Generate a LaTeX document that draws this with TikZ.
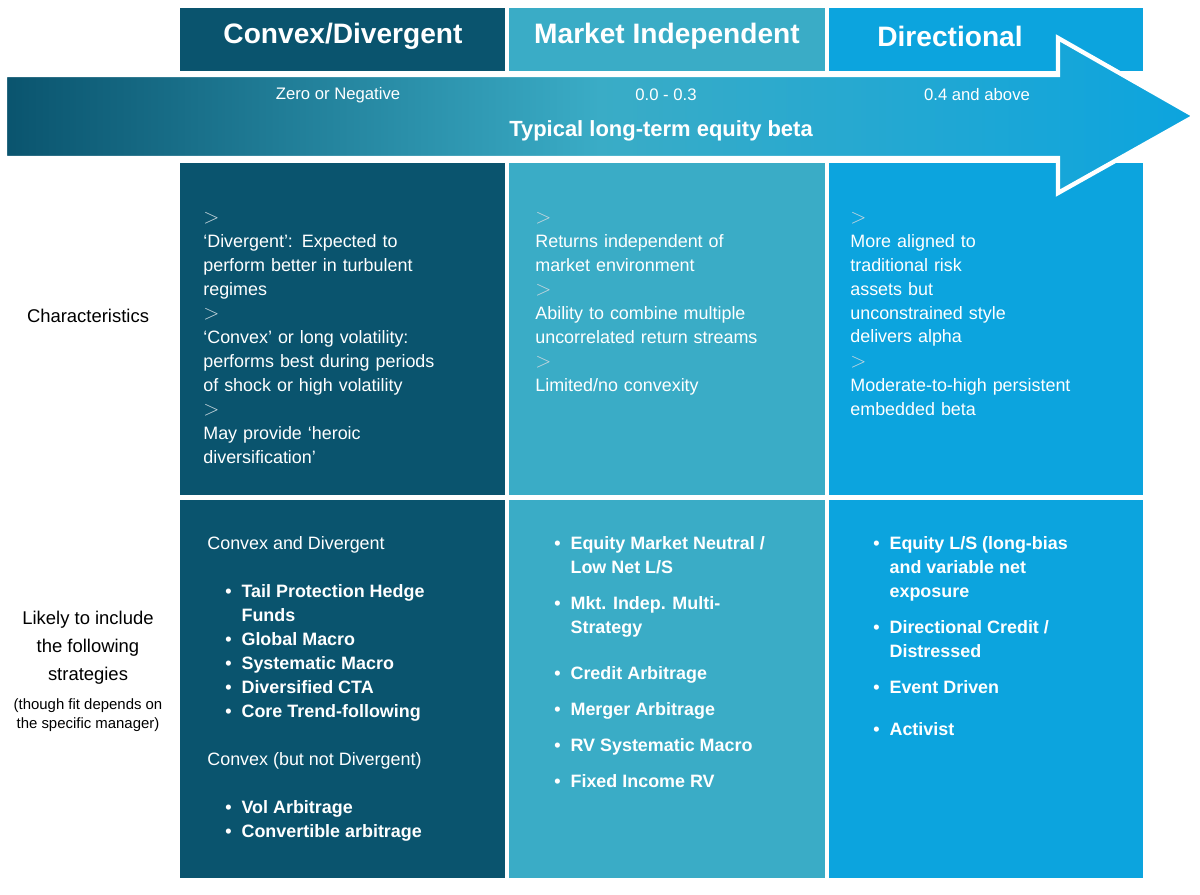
\documentclass[tikz,border=0pt]{standalone}
\usepackage{fontspec}
\setmainfont{Liberation Sans}
\usetikzlibrary{positioning}
\definecolor{cdark}{RGB}{10, 84, 110}
\definecolor{cmid}{RGB}{58, 172, 198}
\definecolor{cbright}{RGB}{12, 164, 222}
\definecolor{chev}{RGB}{200, 215, 222}
\tikzstyle{hd}=[anchor=center,text=white,font=\fontsize{16}{18}\selectfont\bfseries]
\tikzstyle{lbl}=[align=center,font=\fontsize{10.5}{16}\selectfont]
\tikzstyle{chr}=[anchor=north west,align=left,text=white,text width=150pt,
  font=\fontsize{10.2}{13.6}\selectfont,inner sep=0pt]
\tikzstyle{str}=[anchor=north west,align=left,text=white,
  font=\fontsize{10.2}{13.6}\selectfont\bfseries,inner sep=0pt]
\tikzstyle{sub}=[anchor=north west,text=white,font=\fontsize{10.2}{13.6}\selectfont,inner sep=0pt]
\tikzstyle{none}=[]
\newcommand{\chv}{\textcolor{chev}{\fontsize{13}{13}\selectfont$>$}\ }
\newcommand{\bl}{\textbullet\ \ }
\begin{document}
\begin{tikzpicture}[x=0.02cm,y=-0.02cm]
  \useasboundingbox (0,0) rectangle (1200,895);
  % columns
  \fill[cdark] (180,8) rectangle (505,71);
  \fill[cmid] (509,8) rectangle (825,71);
  \fill[cbright] (829,8) rectangle (1143,71);
  \fill[cdark] (180,163) rectangle (505,495);
  \fill[cmid] (509,163) rectangle (825,495);
  \fill[cbright] (829,163) rectangle (1143,495);
  \fill[cdark] (180,500) rectangle (505,878);
  \fill[cmid] (509,500) rectangle (825,878);
  \fill[cbright] (829,500) rectangle (1143,878);
  \node [style=hd] (h1) at (343,36) {Convex/Divergent};
  \node [style=hd] (h2) at (667,36) {Market Independent};
  \node [style=hd] (h3) at (950,36) {Directional};
  % arrow
  \shade[left color=cdark,right color=cbright,middle color=cmid,draw=white,line width=2.5pt]
    (5,75) -- (1058,75) -- (1058,38) -- (1195,116) -- (1058,193) -- (1058,158) -- (5,158) -- cycle;
  \node [text=white,font=\fontsize{9.5}{11}\selectfont] (b1) at (338,95) {Zero or Negative};
  \node [text=white,font=\fontsize{9.5}{11}\selectfont] (b2) at (666,95) {0.0 - 0.3};
  \node [text=white,font=\fontsize{9.5}{11}\selectfont] (b3) at (977,95) {0.4 and above};
  \node [text=white,font=\fontsize{12.5}{14}\selectfont\bfseries] (beta) at (661,131) {Typical long-term equity beta};
  % row labels
  \node [style=lbl] (rc) at (88,316) {Characteristics};
  \node [style=lbl] (rs) at (88,648) {Likely to include\\the following\\strategies};
  \node [align=center,font=\fontsize{8.5}{11}\selectfont] (rn) at (88,715) {(though fit depends on\\the specific manager)};
  % characteristics
  \foreach \x/\y/\t in {203/212/{‘Divergent’: Expected to\\perform better in turbulent\\regimes},
      203/308/{‘Convex’ or long volatility:\\performs best during periods\\of shock or high volatility},
      203/404/{May provide ‘heroic\\diversification’},
      535/212/{Returns independent of\\market environment},
      535/284/{Ability to combine multiple\\uncorrelated return streams},
      535/356/{Limited/no convexity},
      850/212/{More aligned to\\traditional risk\\assets but\\unconstrained style\\delivers alpha},
      850/356/{Moderate-to-high persistent\\embedded beta}}
    \node [style=chr] at (\x,\y) {\chv\parbox[t]{145pt}{\t}};
  % strategies
  \node [style=sub] (s1) at (207,536) {Convex and Divergent};
  \node [style=sub] (s2) at (207,752) {Convex (but not Divergent)};
  \foreach \x/\y/\t in {225/584/{Tail Protection Hedge\\Funds}, 225/632/{Global Macro},
      225/656/{Systematic Macro}, 225/680/{Diversified CTA}, 225/704/{Core Trend-following},
      225/800/{Vol Arbitrage}, 225/824/{Convertible arbitrage},
      554/536/{Equity Market Neutral /\\Low Net L/S}, 554/596/{Mkt. Indep. Multi-\\Strategy},
      554/666/{Credit Arbitrage}, 554/702/{Merger Arbitrage},
      554/738/{RV Systematic Macro}, 554/774/{Fixed Income RV},
      873/536/{Equity L/S (long-bias\\and variable net\\exposure}, 873/620/{Directional Credit /\\Distressed},
      873/680/{Event Driven}, 873/722/{Activist}}
    \node [style=str] at (\x,\y) {\bl\parbox[t]{130pt}{\t}};
\end{tikzpicture}
\end{document}
